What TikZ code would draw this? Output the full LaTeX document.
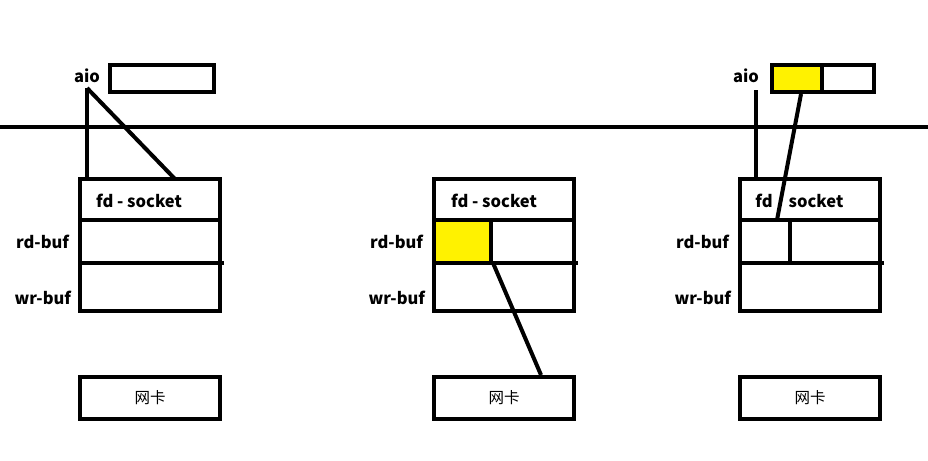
\documentclass[tikz,border=0pt]{standalone}
\usepackage{fontspec}
\setmainfont{Noto Sans CJK SC}
\newfontfamily\cjk{Noto Sans CJK SC}
\definecolor{hilite}{RGB}{255,242,0}
\tikzset{
	lbl/.style={font=\fontsize{16.5}{16.5}\selectfont\bfseries, inner sep=0pt},
	nic/.style={draw, line width=4pt, minimum width=140pt, minimum height=42pt, inner sep=0pt, font=\fontsize{15.5}{15.5}\selectfont\cjk},
}
\begin{document}
\begin{tikzpicture}[x=1pt,y=-1pt,line width=4pt]
	\useasboundingbox (0,0) rectangle (928,460);
	% user / kernel boundary
	\draw (0,127)--(928,127);
	% left: plain socket
	\node[lbl] (aioL) at (87,76) {aio};
	\draw (110,65) rectangle (214,92);
	\coordinate (aioLpt) at (87,88);
	\draw (aioLpt)--(87,179);
	\draw (aioLpt)--(175,179);
	\draw (80,179) rectangle (220,311);
	\draw (80,220)--(222,220);
	\draw (78,263)--(224,263);
	\node[lbl] (sockL) at (139,201) {fd - socket};
	\node[lbl,anchor=east] (rdL) at (71,242) {rd-buf};
	\node[lbl,anchor=east] (wrL) at (73,298) {wr-buf};
	\node[nic] (nicL) at (150,398) {网卡};
	% middle: data copied into rd-buf
	\fill[hilite] (436,222) rectangle (491,261);
	\draw (434,179) rectangle (574,311);
	\draw (434,220)--(576,220);
	\draw (432,263)--(578,263);
	\draw (491,220)--(491,263);
	\node[lbl] (sockM) at (494,201) {fd - socket};
	\node[lbl,anchor=east] (rdM) at (425,242) {rd-buf};
	\node[lbl,anchor=east] (wrM) at (427,298) {wr-buf};
	\node[nic] (nicM) at (504,398) {网卡};
	\coordinate (rdMpt) at (493,263);
	\coordinate (nicMpt) at (541,375);
	\draw (rdMpt)--(nicMpt);
	% right: aio buffer mapped onto rd-buf
	\node[lbl] (aioR) at (746,76) {aio};
	\fill[hilite] (772,67) rectangle (822,90);
	\draw (772,65) rectangle (874,92);
	\draw (822,65)--(822,92);
	\coordinate (aioRpt) at (756,90);
	\draw (aioRpt)--(756,179);
	\coordinate (bufRpt) at (801,94);
	\coordinate (rdRpt) at (777,220);
	\draw (bufRpt)--(rdRpt);
	\draw (740,179) rectangle (880,311);
	\draw (740,220)--(882,220);
	\draw (738,263)--(884,263);
	\draw (790,220)--(790,263);
	\node[lbl] (fdR) at (764,201) {fd};
	\node[lbl] (sockR) at (816,201) {socket};
	\node[lbl,anchor=east] (rdR) at (731,242) {rd-buf};
	\node[lbl,anchor=east] (wrR) at (733,298) {wr-buf};
	\node[nic] (nicR) at (810,398) {网卡};
\end{tikzpicture}
\end{document}
